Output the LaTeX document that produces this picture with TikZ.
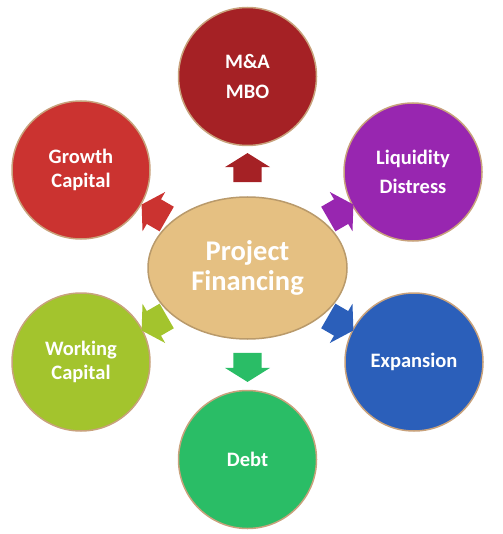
\documentclass[tikz,border=0pt]{standalone}
\usepackage{fontspec}
\setmainfont{Carlito}
\usetikzlibrary{
  shapes.geometric,
  shapes.arrows,
  positioning
}
\definecolor{pfMA}{HTML}{A52125}
\definecolor{pfGrowth}{HTML}{CB3330}
\definecolor{pfLiquid}{HTML}{9826B0}
\definecolor{pfExpand}{HTML}{2B5FBA}
\definecolor{pfDebt}{HTML}{2ABD66}
\definecolor{pfWork}{HTML}{A3C42D}
\definecolor{pfHub}{HTML}{E5C082}
\definecolor{pfHubEdge}{HTML}{B99A6B}
\definecolor{pfEdge}{HTML}{C8A27C}
\tikzset{
  hub/.style={
    ellipse, draw=pfHubEdge, fill=pfHub, line width=1.5pt,
    minimum width=199pt, minimum height=142pt, inner sep=0pt,
    align=center, text=white, font=\fontsize{28.5}{30}\selectfont\bfseries
  },
  spoke/.style={
    circle, draw=pfEdge, line width=1.5pt, minimum size=138pt, inner sep=0pt,
    align=center, text=white, font=\fontsize{20.5}{23.5}\selectfont\bfseries
  },
  pointer/.style={
    single arrow, draw=none, minimum height=29pt, inner xsep=0pt, inner ysep=14pt,
    single arrow head extend=8.5pt, single arrow tip angle=116
  }
}

\begin{document}
\begin{tikzpicture}[x=1pt, y=-1pt]
  \useasboundingbox (0,0) rectangle (502,534);
  \node[hub] (pf) at (247.5,268) {Project\\Financing};
  \node[spoke, fill=pfMA, above=50pt of pf] (ma) {M\&A\\[6pt]MBO};
  \node[spoke, fill=pfDebt, below=50pt of pf] (debt) {Debt};
  \node[spoke, fill=pfGrowth] (growth) at (81,170) {Growth\\Capital};
  \node[spoke, fill=pfLiquid] (liquid) at (413,172) {Liquidity\\[6pt]Distress};
  \node[spoke, fill=pfWork] (work) at (81,362) {Working\\Capital};
  \node[spoke, fill=pfExpand] (expand) at (414,362) {Expansion};
  \node[pointer, fill=pfMA, rotate=90] (toma) at (247.5,172) {};
  \node[pointer, fill=pfDebt, rotate=-90] (todebt) at (247.5,363) {};
  \node[pointer, fill=pfGrowth, rotate=150] (togrowth) at (158,214) {};
  \node[pointer, fill=pfLiquid, rotate=30] (toliquid) at (337,214) {};
  \node[pointer, fill=pfWork, rotate=-150] (towork) at (158,321) {};
  \node[pointer, fill=pfExpand, rotate=-30] (toexpand) at (337,321) {};
\end{tikzpicture}
\end{document}
